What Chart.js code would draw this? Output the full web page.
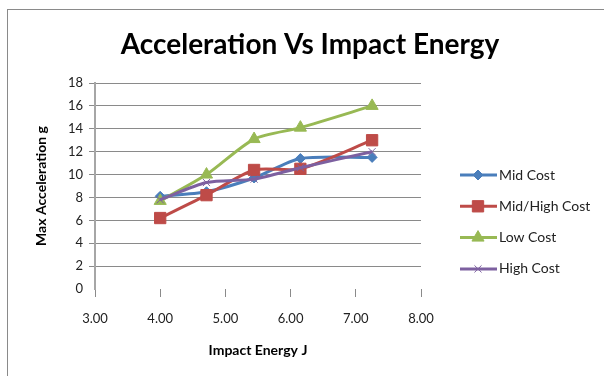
<!DOCTYPE html>
<html lang="en">
<head>
    <meta charset="UTF-8">
    <title>Acceleration Vs Impact Energy</title>
    <script src="https://cdn.jsdelivr.net/npm/chart.js"></script>
    <style>
        body { margin: 0; background: #fff; overflow: hidden; }
        #wrap { position: relative; width: 604px; height: 376px; }
        #frame { position: absolute; left: 7px; top: 9px; width: 640px; height: 420px; border: 1px solid #8a8a8a; box-sizing: border-box; }
        #chart { position: absolute; left: 0; top: 0; }
    </style>
</head>
<body>
    <div id="wrap">
        <div id="frame"></div>
        <canvas id="chart" width="604" height="376"></canvas>
    </div>

    <script>
        // impact energy (J) for each drop
        const energy = [4.00, 4.71, 5.44, 6.15, 7.25];

        const midCost = [8.1, 8.5, 9.7, 11.4, 11.5];
        const midHighCost = [6.2, 8.2, 10.4, 10.5, 13.0];
        const lowCost = [7.7, 10.0, 13.1, 14.1, 16.0];
        const highCost = [7.8, 9.3, 9.6, 10.6, 12.0];

        const xTicks = [3, 4, 5, 6, 7, 8];
        const yTicks = [0, 2, 4, 6, 8, 10, 12, 14, 16, 18];

        const chartTitle = 'Acceleration Vs Impact Energy';
        const FONT = 'Lato, "DejaVu Sans", sans-serif';

        function pts(ys) {
            return energy.map((x, i) => ({ x: x, y: ys[i] }));
        }

        function series(label, ys, color, style, radius, order) {
            return {
                label: label,
                data: pts(ys),
                borderColor: color,
                backgroundColor: color,
                borderWidth: 3,
                pointStyle: style,
                pointRadius: radius,
                pointBorderWidth: 1,
                pointBorderColor: color,
                tension: 0.25,
                order: order
            };
        }

        // title centred on the whole picture + excel style legend (line with marker)
        const decorations = {
            id: 'decorations',
            afterDraw(chart) {
                const ctx = chart.ctx;
                ctx.save();
                ctx.fillStyle = '#000';
                ctx.font = 'bold 28px ' + FONT;
                ctx.textAlign = 'center';
                ctx.textBaseline = 'middle';
                ctx.fillText(chartTitle, 310, 45);

                chart.data.datasets.forEach((ds, i) => {
                    const y = 175 + i * 31.3;
                    ctx.strokeStyle = ds.borderColor;
                    ctx.fillStyle = ds.borderColor;
                    ctx.lineWidth = 3;
                    ctx.beginPath();
                    ctx.moveTo(460, y);
                    ctx.lineTo(497, y);
                    ctx.stroke();
                    ctx.lineWidth = 1;
                    Chart.helpers.drawPoint(ctx, { pointStyle: ds.pointStyle, radius: ds.pointRadius, borderWidth: 1 }, 478, y);
                    ctx.fillStyle = '#222';
                    ctx.font = '14px ' + FONT;
                    ctx.textAlign = 'left';
                    ctx.fillText(ds.label, 499, y);
                });
                ctx.restore();
            }
        };

        new Chart(document.getElementById('chart'), {
            type: 'line',
            data: {
                datasets: [
                    series('Mid Cost', midCost, '#4a7ebb', 'rectRot', 5, 3),
                    series('Mid/High Cost', midHighCost, '#be4b48', 'rect', 8, 2),
                    series('Low Cost', lowCost, '#98b954', 'triangle', 7, 1),
                    series('High Cost', highCost, '#7d60a0', 'crossRot', 5, 0)
                ]
            },
            options: {
                responsive: false,
                animation: false,
                layout: { padding: { left: 33, right: 183, top: 83, bottom: 12 } },
                plugins: {
                    legend: { display: false },
                    tooltip: { enabled: false },
                    title: { display: false }
                },
                scales: {
                    x: {
                        type: 'linear',
                        min: 3,
                        max: 8,
                        afterBuildTicks: s => { s.ticks = xTicks.map(v => ({ value: v })); },
                        afterFit: s => { s.height = 75; },
                        border: { display: false },
                        grid: { drawOnChartArea: false, tickLength: 8, color: '#8a8a8a' },
                        ticks: {
                            padding: 14,
                            color: '#222',
                            font: { family: FONT, size: 13 },
                            callback: v => Number(v).toFixed(2)
                        },
                        title: {
                            display: true,
                            text: 'Impact Energy J',
                            color: '#000',
                            font: { family: FONT, size: 14, weight: 'bold' },
                            padding: { top: 0, bottom: 5 }
                        }
                    },
                    y: {
                        min: 0,
                        max: 18,
                        afterBuildTicks: s => { s.ticks = yTicks.map(v => ({ value: v })); },
                        afterFit: s => { s.width = 62; },
                        border: { display: true, color: '#a6a6a6', width: 2 },
                        grid: {
                            tickLength: 6,
                            color: c => (c.tick && c.tick.value === 0) ? 'rgba(0,0,0,0)' : '#8a8a8a'
                        },
                        ticks: {
                            padding: 6,
                            color: '#222',
                            font: { family: FONT, size: 13 }
                        },
                        title: {
                            display: true,
                            text: 'Max Acceleration g',
                            color: '#000',
                            font: { family: FONT, size: 14, weight: 'bold' },
                            padding: { top: 0, bottom: 0 }
                        }
                    }
                }
            },
            plugins: [decorations]
        });
    </script>
</body>
</html>
